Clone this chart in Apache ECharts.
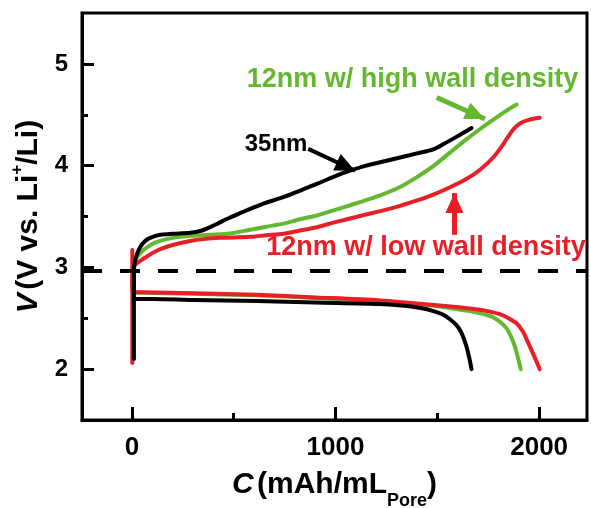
<!DOCTYPE html>
<html>
<head>
<meta charset="utf-8">
<script src="https://cdn.jsdelivr.net/npm/echarts@6/dist/echarts.min.js"></script>
<style>
  html, body { margin: 0; padding: 0; background: #fff; }
  #chart { width: 591px; height: 508px; }
</style>
</head>
<body>
<div id="chart"></div>
<script>
// Capacity C (mAh/mL pore) vs. potential V (V vs. Li+/Li), [C, V] pairs
const charge35 = [[10,2.1],[10,2.7],[11,3.0],[20,3.1],[41,3.2],[65,3.26],[90,3.29],[139,3.32],[200,3.33],[286,3.34],[340,3.36],[384,3.395],[430,3.44],[482,3.49],[540,3.54],[581,3.575],[650,3.63],[744,3.69],[820,3.75],[908,3.82],[990,3.89],[1071,3.95],[1150,4.0],[1235,4.04],[1317,4.08],[1400,4.12],[1480,4.16],[1529,4.21],[1600,4.29],[1668,4.37]];
const discharge35 = [[10,3.0],[10,2.72],[15,2.69],[100,2.69],[300,2.68],[613,2.67],[900,2.655],[1218,2.64],[1350,2.62],[1431,2.595],[1480,2.57],[1529,2.535],[1562,2.49],[1595,2.43],[1615,2.37],[1632,2.29],[1646,2.2],[1658,2.1],[1668,2.0]];

const chargeHigh = [[6,2.95],[7,3.0],[25,3.1],[57,3.17],[100,3.23],[139,3.26],[200,3.29],[286,3.31],[380,3.32],[466,3.33],[581,3.37],[660,3.4],[744,3.43],[820,3.47],[908,3.51],[990,3.56],[1071,3.61],[1150,3.66],[1235,3.72],[1317,3.79],[1398,3.885],[1480,3.995],[1560,4.125],[1644,4.26],[1710,4.36],[1774,4.45],[1840,4.54],[1889,4.6]];
const dischargeHigh = [[6,3.0],[6,2.78],[10,2.755],[50,2.75],[300,2.74],[613,2.727],[900,2.7],[1218,2.667],[1400,2.638],[1500,2.618],[1595,2.59],[1644,2.575],[1700,2.553],[1745,2.53],[1774,2.51],[1810,2.46],[1840,2.4],[1862,2.32],[1881,2.22],[1896,2.11],[1910,2.0]];

const chargeLow = [[2,2.06],[2,2.7],[4,2.99],[25,3.04],[57,3.085],[100,3.14],[139,3.18],[200,3.22],[286,3.26],[360,3.28],[433,3.29],[581,3.3],[660,3.315],[744,3.33],[820,3.36],[908,3.395],[990,3.44],[1071,3.48],[1150,3.52],[1235,3.56],[1317,3.605],[1398,3.655],[1480,3.715],[1560,3.785],[1644,3.87],[1710,3.96],[1774,4.08],[1820,4.2],[1856,4.31],[1880,4.37],[1905,4.415],[1950,4.45],[2003,4.47]];
const dischargeLow = [[2,3.17],[2,2.9],[4,2.77],[10,2.758],[50,2.755],[300,2.745],[613,2.73],[900,2.705],[1218,2.675],[1400,2.645],[1595,2.61],[1700,2.585],[1758,2.565],[1807,2.54],[1850,2.5],[1889,2.45],[1920,2.37],[1946,2.26],[1975,2.13],[2003,2.0]];

// Axis ranges and ticks
const xRange = [-245, 2235];
const yRange = [1.5, 5.5];
const xMajorTicks = [0, 1000, 2000];
const xMinorTicks = [500, 1500];
const yMajorTicks = [2, 3, 4, 5];
const yMinorTicks = [2.5, 3.5, 4.5];

// Reference potential (dashed)
const referenceV = 2.97;

// Annotation labels: [text, C, V]
const label35 = ['35nm', 708, 4.21];
const labelHigh = ['12nm w/ high wall density', 1378, 4.843];
const labelLow = ['12nm w/ low wall density', 1444, 3.19];

// Annotation arrows: [[C0, V0], [C1, V1]], head tip at the second point
const arrow35 = [[866, 4.164], [1096, 3.95]];
const arrowHigh = [[1497, 4.67], [1734, 4.458]];
const arrowLow = [[1584, 3.32], [1584, 3.73]];

const FONT = '"Liberation Sans", Arial, Helvetica, sans-serif';
const BLACK = '#000000';
const GREEN = '#64b82f';
const RED = '#e81f27';

// Arrow head whose tip sits at the centre of its box (empty upper half),
// so the tip lands exactly on the line's end point.
const ARROW_HEAD = 'path://M0,0L-8,19L8,19Z M0,-19L0.01,-19Z';

function textMark(lbl, color, size) {
  return {
    symbol: 'circle',
    symbolSize: 0,
    silent: true,
    label: {
      show: true,
      position: 'inside',
      formatter: lbl[0],
      color: color,
      fontSize: size,
      fontWeight: 'bold',
      fontFamily: FONT
    },
    data: [{ coord: [lbl[1], lbl[2]] }]
  };
}

function arrowMark(arrow, color, width) {
  return {
    silent: true,
    symbol: ['none', ARROW_HEAD],
    symbolSize: [18, 40],
    label: { show: false },
    lineStyle: { color: color, width: width, type: 'solid' },
    data: [[{ coord: arrow[0] }, { coord: arrow[1] }]]
  };
}

function curve(name, data, color, extra) {
  return Object.assign({
    name: name,
    type: 'line',
    data: data,
    showSymbol: false,
    smooth: 0.3,
    silent: true,
    lineStyle: { color: color, width: 4, cap: 'round', join: 'round' },
    itemStyle: { color: color }
  }, extra || {});
}

const tickStyle = { color: BLACK, width: 3 };
const plainNumber = function (v) { return String(v); };

const option = {
  animation: false,
  backgroundColor: '#ffffff',
  grid: {
    left: 82, right: 4, top: 13, bottom: 88,
    show: true, borderColor: BLACK, borderWidth: 3,
    backgroundColor: 'transparent',
    containLabel: false,
    outerBoundsMode: 'none'
  },
  xAxis: [{
    type: 'value', min: xRange[0], max: xRange[1], position: 'bottom',
    axisLine: { show: true, onZero: false, lineStyle: tickStyle },
    axisTick: { show: true, inside: true, length: 13, customValues: xMajorTicks, lineStyle: tickStyle },
    axisLabel: { show: true, customValues: xMajorTicks, formatter: plainNumber, margin: 15, fontSize: 26, fontWeight: 'bold', color: BLACK, fontFamily: FONT },
    splitLine: { show: false },
    name: '{i|C} {b|(mAh/mL}{s|Pore}{b|)}',
    nameLocation: 'middle',
    nameGap: 40,
    nameTextStyle: {
      rich: {
        i: { fontSize: 30, fontWeight: 'bold', fontStyle: 'italic', color: BLACK, fontFamily: FONT, lineHeight: 48 },
        b: { fontSize: 30, fontWeight: 'bold', color: BLACK, fontFamily: FONT, lineHeight: 48 },
        s: { fontSize: 18, fontWeight: 'bold', color: BLACK, fontFamily: FONT, padding: [32, 0, 0, 0] }
      }
    }
  }, {
    type: 'value', min: xRange[0], max: xRange[1], position: 'bottom',
    axisLine: { show: false, onZero: false },
    axisTick: { show: true, inside: true, length: 7, customValues: xMinorTicks, lineStyle: tickStyle },
    axisLabel: { show: false },
    splitLine: { show: false }
  }],
  yAxis: [{
    type: 'value', min: yRange[0], max: yRange[1], position: 'left',
    axisLine: { show: true, onZero: false, lineStyle: tickStyle },
    axisTick: { show: true, inside: true, length: 12, customValues: yMajorTicks, lineStyle: tickStyle },
    axisLabel: { show: true, customValues: yMajorTicks, formatter: plainNumber, margin: 14, fontSize: 24, fontWeight: 'bold', color: BLACK, fontFamily: FONT },
    splitLine: { show: false },
    name: '{i|V} {b|(V vs. Li}{p|+}{b|/Li)}',
    nameLocation: 'middle',
    nameRotate: 90,
    nameGap: 31,
    nameTextStyle: {
      rich: {
        i: { fontSize: 30, fontWeight: 'bold', fontStyle: 'italic', color: BLACK, fontFamily: FONT, lineHeight: 40 },
        b: { fontSize: 30, fontWeight: 'bold', color: BLACK, fontFamily: FONT, lineHeight: 40 },
        p: { fontSize: 17, fontWeight: 'bold', color: BLACK, fontFamily: FONT, padding: [0, 0, 22, 0] }
      }
    }
  }, {
    type: 'value', min: yRange[0], max: yRange[1], position: 'left',
    axisLine: { show: false, onZero: false },
    axisTick: { show: true, inside: true, length: 6, customValues: yMinorTicks, lineStyle: tickStyle },
    axisLabel: { show: false },
    splitLine: { show: false }
  }],
  series: [
    curve('12nm high wall density (discharge)', dischargeHigh, GREEN),
    curve('12nm high wall density (charge)', chargeHigh, GREEN, {
      markPoint: textMark(labelHigh, GREEN, 27),
      markLine: arrowMark(arrowHigh, GREEN, 5)
    }),
    curve('12nm low wall density (discharge)', dischargeLow, RED),
    curve('12nm low wall density (charge)', chargeLow, RED, {
      markPoint: textMark(labelLow, RED, 27),
      markLine: arrowMark(arrowLow, RED, 5)
    }),
    curve('35nm (discharge)', discharge35, BLACK, {
      markLine: {
        silent: true,
        symbol: ['none', 'none'],
        label: { show: false },
        lineStyle: { color: BLACK, width: 4, type: [20, 18] },
        data: [{ yAxis: referenceV }]
      }
    }),
    curve('35nm (charge)', charge35, BLACK, {
      markPoint: textMark(label35, BLACK, 24),
      markLine: arrowMark(arrow35, BLACK, 4)
    })
  ]
};

const chart = echarts.init(document.getElementById('chart'), null, { renderer: 'canvas' });
chart.setOption(option);
</script>
</body>
</html>
